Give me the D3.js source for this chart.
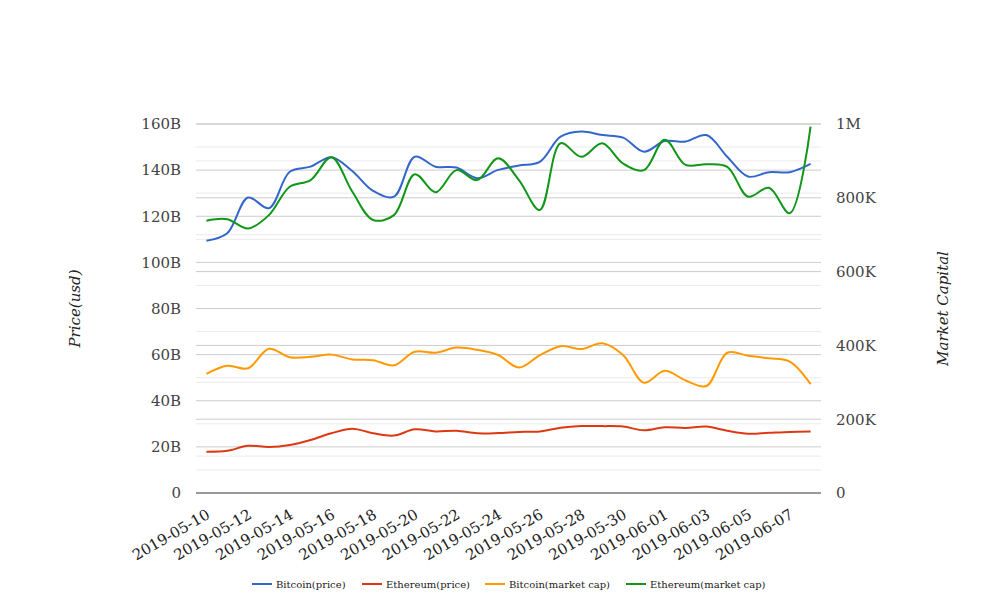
<!DOCTYPE html>
<html>
<head>
<meta charset="utf-8">
<script src="https://cdn.jsdelivr.net/npm/d3@7/dist/d3.min.js"></script>
<style>
  body { margin: 0; background: #fff; }
  svg { font-family: "DejaVu Serif", serif; }
</style>
</head>
<body>
<div id="app"></div>
<script>
const dates = [
  '2019-05-10', '2019-05-11', '2019-05-12', '2019-05-13', '2019-05-14', '2019-05-15',
  '2019-05-16', '2019-05-17', '2019-05-18', '2019-05-19', '2019-05-20', '2019-05-21',
  '2019-05-22', '2019-05-23', '2019-05-24', '2019-05-25', '2019-05-26', '2019-05-27',
  '2019-05-28', '2019-05-29', '2019-05-30', '2019-05-31', '2019-06-01', '2019-06-02',
  '2019-06-03', '2019-06-04', '2019-06-05', '2019-06-06', '2019-06-07', '2019-06-08'
];

// prices in billions (left axis)
const bitcoinPrice = [
  109.4, 112.6, 128.1, 123.5, 139.3, 141.5, 145.6, 139.6, 131.0, 128.5,
  145.8, 141.5, 141.1, 136.5, 140.1, 142.0, 143.6, 154.5, 156.7, 155.2,
  154.1, 148.0, 152.6, 152.4, 155.2, 145.8, 137.2, 139.1, 139.1, 142.7
];
const ethereumPrice = [
  17.9, 18.3, 20.5, 19.9, 20.8, 23.0, 25.9, 27.9, 25.9, 24.9,
  27.6, 26.7, 27.0, 25.9, 26.0, 26.5, 26.7, 28.3, 29.0, 29.0,
  28.8, 27.2, 28.5, 28.2, 28.8, 27.0, 25.7, 26.1, 26.5, 26.7
];

// market caps in thousands (right axis)
const bitcoinCap = [
  323, 345, 338, 391, 368, 369, 375, 362, 360, 346,
  383, 380, 394, 388, 374, 340, 373, 398, 390, 406,
  374, 299, 331, 305, 290, 380, 372, 365, 356, 295
];
const ethereumCap = [
  738, 742, 717, 753, 830, 848, 910, 817, 740, 753,
  864, 815, 875, 848, 907, 848, 767, 948, 911, 948,
  893, 875, 957, 889, 891, 884, 803, 827, 758, 993
];

const leftTicks = [0, 20, 40, 60, 80, 100, 120, 140, 160];
const rightTicks = [0, 200, 400, 600, 800, 1000];

const series = [
  { name: 'Bitcoin(price)', values: bitcoinPrice, axis: 'left', color: '#3366cc' },
  { name: 'Ethereum(price)', values: ethereumPrice, axis: 'left', color: '#dc3912' },
  { name: 'Bitcoin(market cap)', values: bitcoinCap, axis: 'right', color: '#ff9900' },
  { name: 'Ethereum(market cap)', values: ethereumCap, axis: 'right', color: '#109618' }
];

const render = () => {
  const width = 1008;
  const height = 616;
  const plot = { left: 196, right: 821, top: 124, bottom: 493 };

  const svg = d3.select('#app').append('svg')
    .attr('width', width)
    .attr('height', height);

  const x = d3.scaleBand()
    .domain(dates)
    .range([plot.left, plot.right]);
  const cx = d => x(d) + x.bandwidth() / 2;

  const yLeft = d3.scaleLinear().domain([0, 160]).range([plot.bottom, plot.top]);
  const yRight = d3.scaleLinear().domain([0, 1000]).range([plot.bottom, plot.top]);

  // 1. gridlines (minor first, then major)
  const hline = (sel, data, scale, color) => {
    sel.selectAll(null)
      .data(data)
      .enter().append('line')
        .attr('x1', plot.left).attr('x2', plot.right)
        .attr('y1', d => scale(d)).attr('y2', d => scale(d))
        .attr('stroke', color);
  };
  const grid = svg.append('g');
  hline(grid, d3.range(10, 160, 20), yLeft, '#ebebeb');
  hline(grid, d3.range(100, 1000, 200), yRight, '#ebebeb');
  hline(grid, leftTicks.slice(1), yLeft, '#cccccc');
  hline(grid, rightTicks.slice(1), yRight, '#cccccc');

  // 2. axes
  const leftAxis = d3.axisLeft(yLeft)
    .tickValues(leftTicks)
    .tickSize(0)
    .tickPadding(15)
    .tickFormat(d => d === 0 ? '0' : `${d}B`);
  const rightAxis = d3.axisRight(yRight)
    .tickValues(rightTicks)
    .tickSize(0)
    .tickPadding(15)
    .tickFormat(d => d === 0 ? '0' : d >= 1000 ? `${d / 1000}M` : `${d}K`);

  svg.append('g')
    .attr('transform', `translate(${plot.left}, 0)`)
    .call(leftAxis)
    .call(g => g.select('.domain').remove())
    .selectAll('text')
      .attr('font-family', '"DejaVu Serif", serif')
      .attr('font-size', 15)
      .attr('fill', '#444');

  svg.append('g')
    .attr('transform', `translate(${plot.right}, 0)`)
    .call(rightAxis)
    .call(g => g.select('.domain').remove())
    .selectAll('text')
      .attr('font-family', '"DejaVu Serif", serif')
      .attr('font-size', 15)
      .attr('fill', '#444');

  const xAxis = d3.axisBottom(x)
    .tickValues(dates.filter((d, i) => i % 2 === 0))
    .tickSize(0)
    .tickPadding(0);
  svg.append('g')
    .attr('transform', `translate(0, ${plot.bottom})`)
    .call(xAxis)
    .call(g => g.select('.domain').remove())
    .selectAll('text')
      .attr('font-family', '"DejaVu Serif", serif')
      .attr('font-size', 15)
      .attr('fill', '#222')
      .attr('text-anchor', 'end')
      .attr('dy', '0.35em')
      .attr('transform', 'translate(2, 20) rotate(-30)');

  svg.append('line')
    .attr('x1', plot.left).attr('x2', plot.right)
    .attr('y1', plot.bottom).attr('y2', plot.bottom)
    .attr('stroke', '#333');

  // axis titles
  const midY = (plot.top + plot.bottom) / 2;
  svg.append('text')
    .attr('transform', `translate(80, ${midY}) rotate(-90)`)
    .attr('text-anchor', 'middle')
    .attr('font-size', 15)
    .attr('font-style', 'italic')
    .attr('fill', '#222')
    .text('Price(usd)');
  svg.append('text')
    .attr('transform', `translate(948, ${midY}) rotate(-90)`)
    .attr('text-anchor', 'middle')
    .attr('font-size', 15)
    .attr('font-style', 'italic')
    .attr('fill', '#222')
    .text('Market Capital');

  // 3. lines
  const line = scale => d3.line()
    .x((v, i) => cx(dates[i]))
    .y(v => scale(v))
    .curve(d3.curveCatmullRom.alpha(0.5));

  svg.append('g')
    .selectAll('path')
    .data(series)
    .enter()
      .append('path')
      .attr('fill', 'none')
      .attr('stroke', d => d.color)
      .attr('stroke-width', 2)
      .attr('d', d => line(d.axis === 'left' ? yLeft : yRight)(d.values));

  // 4. legend
  const legendX = [252, 362, 485, 626];
  const legend = svg.append('g')
    .selectAll('g')
    .data(series)
    .enter()
      .append('g')
      .attr('transform', (d, i) => `translate(${legendX[i]}, 584)`);
  legend.append('line')
    .attr('x1', 0).attr('x2', 20)
    .attr('stroke', d => d.color)
    .attr('stroke-width', 2);
  legend.append('text')
    .attr('x', 24)
    .attr('dy', '0.35em')
    .attr('font-size', 10)
    .attr('fill', '#222')
    .text(d => d.name);
};

document.addEventListener('DOMContentLoaded', render);
</script>
</body>
</html>
